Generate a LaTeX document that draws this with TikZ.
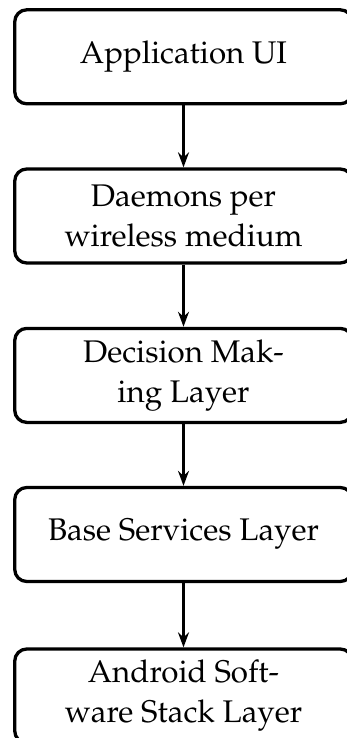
\documentclass[tikz,border=0pt]{standalone}
\usepackage[T1]{fontenc}
\renewcommand{\rmdefault}{ppl}
\usetikzlibrary{arrows.meta}

\tikzset{
  layerbox/.style={draw, line width=3.3pt, rounded corners=12pt,
    minimum width=337.5pt, minimum height=94pt, align=center,
    font=\fontsize{31.3}{40}\selectfont, inner sep=0pt},
  flow/.style={line width=2.3pt,
    -{Stealth[length=15pt,width=11pt,inset=5pt]}}
}

\begin{document}
\begin{tikzpicture}[x=1pt,y=-1pt]
  \useasboundingbox (0,0) rectangle (347,738);
  \clip (0,0) rectangle (347,738);

  \node[layerbox] (ui)     at (183.5, 56.8)  {Application UI};
  \node[layerbox] (daemon) at (183.5, 216.0) {Daemons per\\wireless medium};
  \node[layerbox] (decide) at (183.5, 375.4) {Decision Mak-\\ing Layer};
  \node[layerbox] (base)   at (183.5, 534.5) {Base Services Layer};
  \node[layerbox] (stack)  at (183.5, 696.0) {Android Soft-\\ware Stack Layer};

  \draw[flow] (ui)     -- (daemon);
  \draw[flow] (daemon) -- (decide);
  \draw[flow] (decide) -- (base);
  \draw[flow] (base)   -- (stack);
\end{tikzpicture}
\end{document}
